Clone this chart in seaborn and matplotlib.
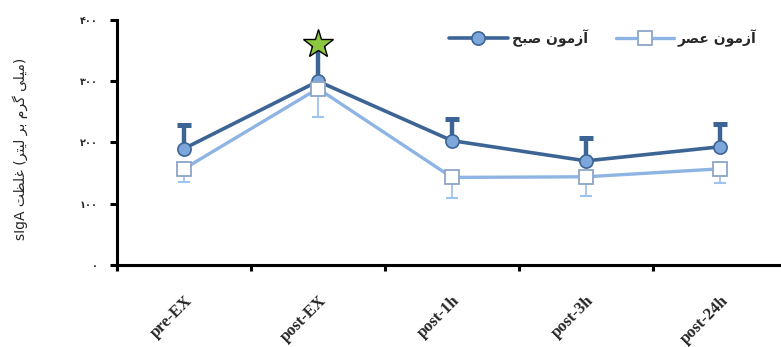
import numpy as np
import pandas as pd
import seaborn as sns
import matplotlib.pyplot as plt

# data
times = ["pre-EX", "post-EX", "post-1h", "post-3h", "post-24h"]
morning_mean = [190, 300, 203, 170, 193]
morning_sd = [39, 55, 36, 37, 37]
evening_mean = [157, 288, 143, 144, 157]
evening_sd = [21, 46, 33, 32, 23]
star_time = "post-EX"
star_value = 360

# Persian labels written in visual (shaped, left-to-right) order
label_morning = "\uFEA2\uFE92\uFEBB \uFEE5\uFEEE\uFEE3\uFEAF\uFE81"   # آزمون صبح
label_evening = "\uFEAE\uFEBC\uFECB \uFEE5\uFEEE\uFEE3\uFEAF\uFE81"   # آزمون عصر
ylabel = ("sIgA \uFE96\uFEC8\uFEE0\uFECF (\uFEAE\uFE98\uFEF4\uFEDF \uFEAE\uFE91 "
          "\uFEE1\uFEAE\uFB94 \uFEF0\uFEE0\uFEF4\uFEE3)")   # غلظت (میلی گرم بر لیتر)
ytick_vals = [0, 100, 200, 300, 400]
ytick_labels = ["\u06F0", "\u06F1\u06F0\u06F0", "\u06F2\u06F0\u06F0",
                "\u06F3\u06F0\u06F0", "\u06F4\u06F0\u06F0"]

dark = "#3C6596"
dark_fill = "#7DA6DA"
light = "#8EB4E3"
light_edge = "#8EA5C8"
light_err = "#9DC3F0"

sns.set_style("white")
plt.rcParams["font.family"] = ["DejaVu Sans"]

fig = plt.figure(figsize=(7.81, 3.47), dpi=100)
ax = fig.add_axes([0.1498, 0.2363, 0.8579, 0.7061])

morning_top = np.array(morning_mean) + np.array(morning_sd)
evening_bottom = np.array(evening_mean) - np.array(evening_sd)

# morning series: error bars upward only
ax.errorbar(times, morning_mean, yerr=[np.zeros(5), morning_sd], fmt="none",
            ecolor=dark, elinewidth=3.2, capsize=0, zorder=2)
ax.plot(times, morning_top, marker="_", markersize=10, markeredgewidth=3.6,
        color=dark, linestyle="none", zorder=2)
sns.lineplot(x=times, y=morning_mean, sort=False, ax=ax, color=dark, linewidth=2.6,
             marker="o", markersize=9.5, markerfacecolor=dark_fill,
             markeredgecolor=dark, markeredgewidth=1.2, label=label_morning, zorder=3)

# evening series: error bars downward only
ax.errorbar(times, evening_mean, yerr=[evening_sd, np.zeros(5)], fmt="none",
            ecolor=light_err, elinewidth=1.3, capsize=0, zorder=2)
ax.plot(times, evening_bottom, marker="_", markersize=9, markeredgewidth=1.5,
        color=light_err, linestyle="none", zorder=2)
sns.lineplot(x=times, y=evening_mean, sort=False, ax=ax, color=light, linewidth=2.4,
             marker="s", markersize=9.5, markerfacecolor="white",
             markeredgecolor=light_edge, markeredgewidth=1.3, label=label_evening, zorder=4)

# significance star
ax.plot([star_time], [star_value], marker="*", markersize=22, markerfacecolor="#8DC63F",
        markeredgecolor="black", markeredgewidth=1.0, linestyle="none", zorder=5)

ax.set_xlim(-0.5, 4.5)
ax.set_ylim(0, 400)
sns.despine(ax=ax)
for side in ["left", "bottom"]:
    ax.spines[side].set_linewidth(2.2)
    ax.spines[side].set_color("black")

# category boundaries as major ticks, labels on minor ticks at the points
ax.set_xticks(np.arange(-0.5, 4.6, 1.0))
ax.set_xticklabels([])
ax.set_xticks(range(len(times)), minor=True)
ax.set_xticklabels(times, minor=True, rotation=45, ha="right", va="top",
                   rotation_mode="anchor", fontsize=12, fontweight="bold",
                   family="Liberation Serif")
ax.tick_params(axis="x", which="major", direction="out", length=4, width=2.2,
               bottom=True, color="black")
ax.tick_params(axis="x", which="minor", length=0, pad=20)

ax.set_yticks(ytick_vals)
ax.set_yticklabels(ytick_labels, fontsize=7, fontweight="bold")
ax.tick_params(axis="y", direction="out", length=5, width=2.2, left=True,
               color="black", pad=9)

ax.set_xlabel("")
ax.set_ylabel("")
fig.text(0.026, 0.57, ylabel, rotation=90, ha="center", va="center", fontsize=10)

handles, labels = ax.get_legend_handles_labels()
ax.legend(handles, labels, loc="center right", bbox_to_anchor=(0.985, 0.89),
          bbox_transform=fig.transFigure, ncol=2, frameon=False, handlelength=4.2,
          handletextpad=0.3, columnspacing=2.0, prop={"weight": "bold", "size": 10})

fig.savefig("out.png", dpi=100)
